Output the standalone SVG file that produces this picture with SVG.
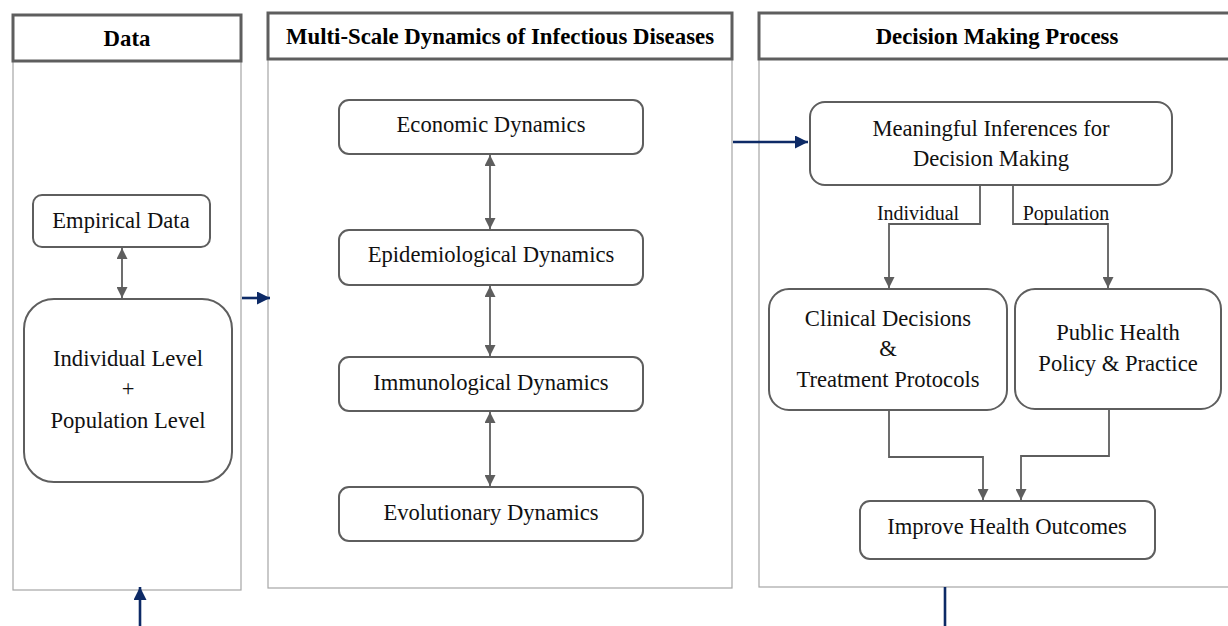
<svg xmlns="http://www.w3.org/2000/svg" width="1228" height="626" viewBox="0 0 1228 626">
  <defs>
    <style>
      .hdr { fill: #fff; stroke: #5e5e5e; stroke-width: 3; }
      .panel { fill: #fff; stroke: #a6a6a6; stroke-width: 1.2; }
      .node { fill: #fff; stroke: #5e5e5e; stroke-width: 2; }
      .htxt { font-family: "Liberation Serif", "Times New Roman", serif; font-weight: bold; font-size: 22.8px; fill: #000; text-anchor: middle; }
      .txt { font-family: "Liberation Serif", "Times New Roman", serif; font-size: 22.6px; fill: #111; text-anchor: middle; }
      .lbl { font-family: "Liberation Serif", "Times New Roman", serif; font-size: 20px; fill: #111; text-anchor: middle; }
      .gray { fill: none; stroke: #5e5e5e; stroke-width: 1.8; }
      .blue { fill: none; stroke: #0d2a66; stroke-width: 2.6; }
    </style>
    <marker id="agl" viewBox="0 0 10 10" refX="10" refY="5" markerWidth="11" markerHeight="11" markerUnits="userSpaceOnUse" orient="auto-start-reverse">
      <path d="M0,0 L10,5 L0,10 z" fill="#5e5e5e"/>
    </marker>
    <marker id="ab" viewBox="0 0 10 10" refX="10" refY="5" markerWidth="13" markerHeight="13" markerUnits="userSpaceOnUse" orient="auto">
      <path d="M0,0 L10,5 L0,10 z" fill="#0d2a66"/>
    </marker>
  </defs>
  <rect width="1228" height="626" fill="#fff"/>

  <!-- Panels -->
  <g id="panel-data">
    <rect class="panel" x="13" y="61" width="228" height="529"/>
    <rect class="hdr" x="13" y="15" width="228" height="46"/>
    <text class="htxt" x="127" y="46">Data</text>
  </g>
  <g id="panel-dynamics">
    <rect class="panel" x="268" y="59" width="464" height="529"/>
    <rect class="hdr" x="268" y="13" width="464" height="46"/>
    <text class="htxt" x="500" y="44">Multi-Scale Dynamics of Infectious Diseases</text>
  </g>
  <g id="panel-decision">
    <rect class="panel" x="759" y="59" width="490" height="528"/>
    <rect class="hdr" x="759" y="13" width="490" height="46"/>
    <text class="htxt" x="997" y="44">Decision Making Process</text>
  </g>

  <!-- Connectors -->
  <g id="connectors">
    <line class="gray" x1="122" y1="248" x2="122" y2="298" marker-start="url(#agl)" marker-end="url(#agl)"/>
    <line class="gray" x1="490" y1="155" x2="490" y2="229" marker-start="url(#agl)" marker-end="url(#agl)"/>
    <line class="gray" x1="490" y1="286" x2="490" y2="356" marker-start="url(#agl)" marker-end="url(#agl)"/>
    <line class="gray" x1="490" y1="412" x2="490" y2="486" marker-start="url(#agl)" marker-end="url(#agl)"/>

    <polyline class="gray" points="980,186 980,224 889,224 889,288" marker-end="url(#agl)"/>
    <polyline class="gray" points="1013,186 1013,224 1108,224 1108,288" marker-end="url(#agl)"/>
    <polyline class="gray" points="889,411 889,457 983,457 983,500" marker-end="url(#agl)"/>
    <polyline class="gray" points="1109,410 1109,456 1021,456 1021,500" marker-end="url(#agl)"/>

    <line class="blue" x1="242" y1="298" x2="270" y2="298" marker-end="url(#ab)"/>
    <line class="blue" x1="733" y1="142" x2="808" y2="142" marker-end="url(#ab)"/>
    <line class="blue" x1="140" y1="626" x2="140" y2="587" marker-end="url(#ab)"/>
    <line class="blue" x1="945" y1="587" x2="945" y2="626"/>

    <text class="lbl" x="918" y="220">Individual</text>
    <text class="lbl" x="1066" y="220">Population</text>
  </g>

  <!-- Nodes -->
  <g id="empirical-data">
    <rect class="node" x="33" y="195" width="177" height="52" rx="9"/>
    <text class="txt" x="121" y="228">Empirical Data</text>
  </g>
  <g id="levels">
    <rect class="node" x="24" y="299" width="208" height="183" rx="30"/>
    <text class="txt" x="128" y="366">Individual Level</text>
    <text class="txt" x="128" y="396">+</text>
    <text class="txt" x="128" y="428">Population Level</text>
  </g>

  <g id="economic">
    <rect class="node" x="339" y="100" width="304" height="54" rx="10"/>
    <text class="txt" x="491" y="132">Economic Dynamics</text>
  </g>
  <g id="epidemiological">
    <rect class="node" x="339" y="230" width="304" height="55" rx="10"/>
    <text class="txt" x="491" y="262">Epidemiological Dynamics</text>
  </g>
  <g id="immunological">
    <rect class="node" x="339" y="357" width="304" height="54" rx="10"/>
    <text class="txt" x="491" y="390">Immunological Dynamics</text>
  </g>
  <g id="evolutionary">
    <rect class="node" x="339" y="487" width="304" height="54" rx="10"/>
    <text class="txt" x="491" y="520">Evolutionary Dynamics</text>
  </g>

  <g id="inferences">
    <rect class="node" x="810" y="102" width="362" height="83" rx="15"/>
    <text class="txt" x="991" y="136">Meaningful Inferences for</text>
    <text class="txt" x="991" y="166">Decision Making</text>
  </g>
  <g id="clinical">
    <rect class="node" x="769" y="289" width="238" height="121" rx="20"/>
    <text class="txt" x="888" y="326">Clinical Decisions</text>
    <text class="txt" x="888" y="356">&amp;</text>
    <text class="txt" x="888" y="387">Treatment Protocols</text>
  </g>
  <g id="public-health">
    <rect class="node" x="1015" y="289" width="206" height="120" rx="20"/>
    <text class="txt" x="1118" y="340">Public Health</text>
    <text class="txt" x="1118" y="371">Policy &amp; Practice</text>
  </g>
  <g id="outcomes">
    <rect class="node" x="860" y="501" width="295" height="58" rx="10"/>
    <text class="txt" x="1007" y="534">Improve Health Outcomes</text>
  </g>
</svg>
